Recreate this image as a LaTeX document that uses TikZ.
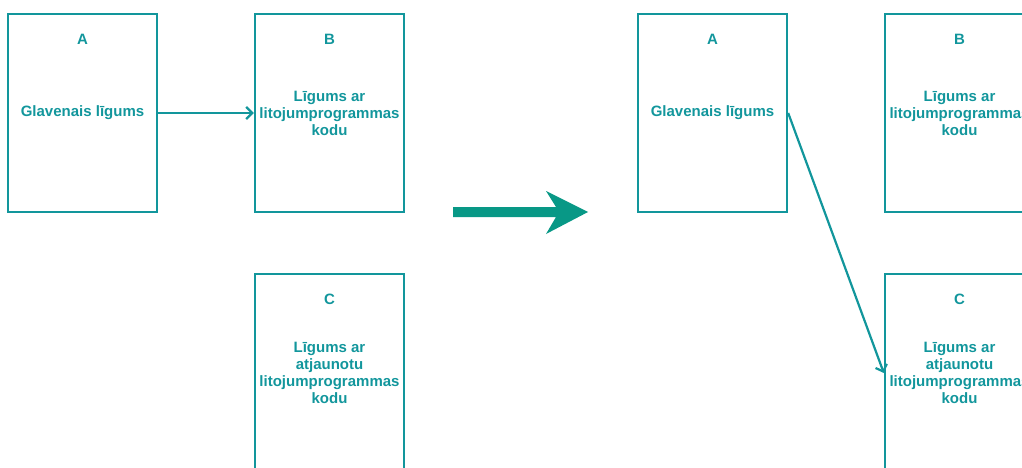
\documentclass[tikz,border=0pt]{standalone}
\usepackage{fontspec}
\setmainfont{Liberation Sans}
\usetikzlibrary{arrows.meta}
\definecolor{boxcol}{RGB}{18,150,156}
\definecolor{bigarrow}{RGB}{8,152,134}
\tikzset{
  doc/.style={draw=boxcol, line width=2.4pt, minimum width=149pt, minimum height=198pt, inner sep=0pt},
  ttl/.style={text=boxcol, font=\bfseries\fontsize{15}{17}\selectfont, inner sep=0pt},
  bdy/.style={text=boxcol, font=\bfseries\fontsize{15}{17}\selectfont, align=center, inner sep=0pt},
  conn/.style={draw=boxcol, line width=2.2pt, -{Straight Barb[length=6pt,width=12pt,line width=2.2pt]}},
}
\begin{document}
\begin{tikzpicture}[x=1pt,y=-1pt]
\useasboundingbox (0,0) rectangle (1022,468);
\clip (0,0) rectangle (1022,468);
% left group
\node[doc] (A) at (82.5,113) {};
\node[doc] (B) at (329.5,113) {};
\node[doc] (C) at (329.5,373) {};
\node[ttl] (At) at (82.5,39) {A};
\node[bdy] (Ab) at (82.5,113) {Glavenais līgums};
\node[ttl] (Bt) at (329.5,39) {B};
\node[bdy] (Bb) at (329.5,113) {Līgums ar\\litojumprogrammas\\kodu};
\node[ttl] (Ct) at (329.5,299) {C};
\node[bdy] (Cb) at (329.5,372.5) {Līgums ar\\atjaunotu\\litojumprogrammas\\kodu};
\draw[conn] (A.east) -- (B.west);
% big arrow
\fill[bigarrow] (453,207) -- (556,207) -- (546,191) -- (588,212) -- (546,234) -- (556,217) -- (453,217) -- cycle;
% right group
\node[doc] (A2) at (712.5,113) {};
\node[doc] (B2) at (959.5,113) {};
\node[doc] (C2) at (959.5,373) {};
\node[ttl] (A2t) at (712.5,39) {A};
\node[bdy] (A2b) at (712.5,113) {Glavenais līgums};
\node[ttl] (B2t) at (959.5,39) {B};
\node[bdy] (B2b) at (959.5,113) {Līgums ar\\litojumprogrammas\\kodu};
\node[ttl] (C2t) at (959.5,299) {C};
\node[bdy] (C2b) at (959.5,372.5) {Līgums ar\\atjaunotu\\litojumprogrammas\\kodu};
\draw[conn] (A2.east) -- (C2.west);
\end{tikzpicture}
\end{document}
